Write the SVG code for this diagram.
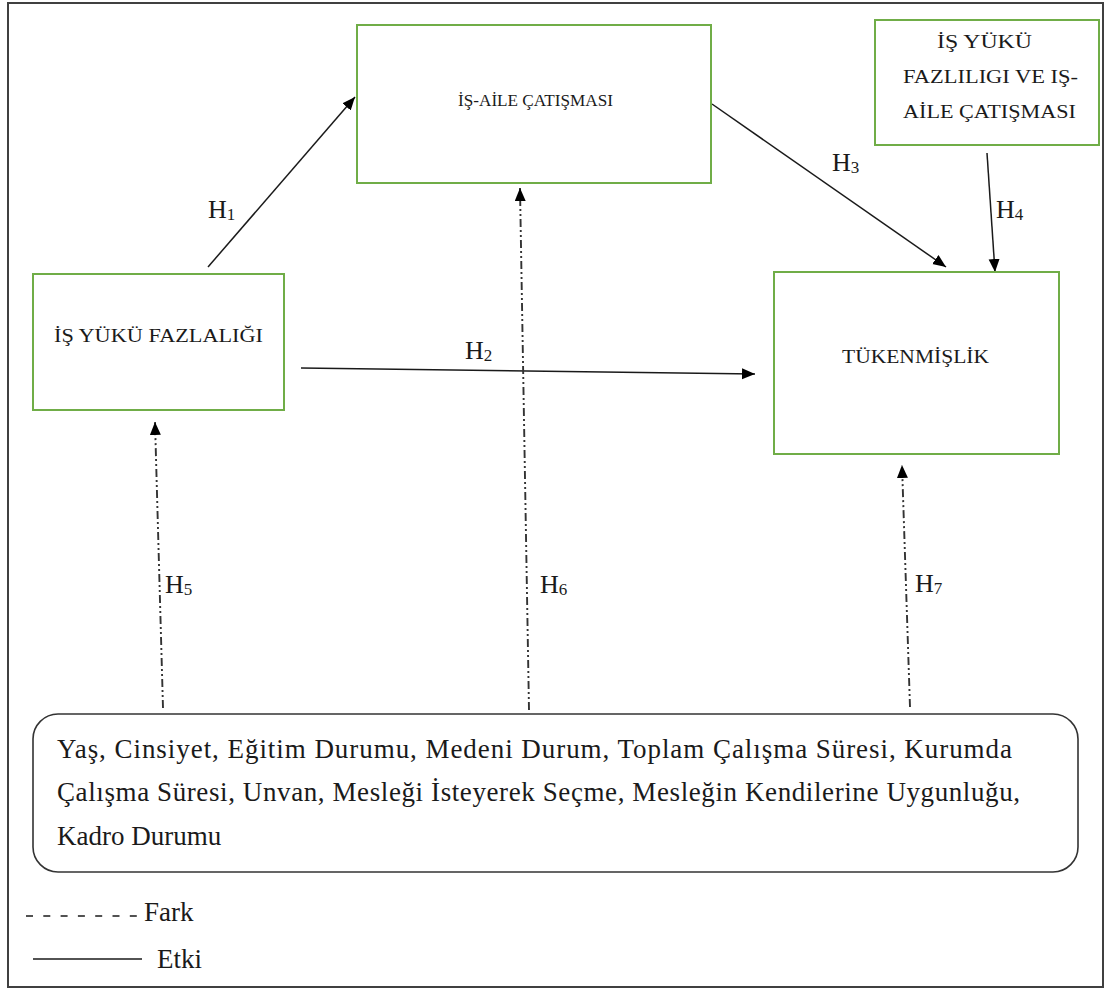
<svg xmlns="http://www.w3.org/2000/svg" width="1105" height="989" viewBox="0 0 1105 989">
<defs>
<marker id="ah" markerUnits="userSpaceOnUse" markerWidth="14" markerHeight="12" refX="13" refY="5.5" orient="auto">
<path d="M0,0 L13,5.5 L0,11 z" fill="#000"/>
</marker>
<style>
.frame{fill:none;stroke:#404040;stroke-width:2}
.box{fill:#fff;stroke:#70AD47;stroke-width:2}
.rbox{fill:#fff;stroke:#333;stroke-width:1.6}
.t{font-family:"Liberation Serif","Times New Roman",serif;fill:#1a1a1a}
.bt{font-size:19px}
.lt{font-size:27px}
.h{font-size:26px}
.sub{font-size:17px}
.solid{fill:none;stroke:#1a1a1a;stroke-width:1.5}
.dd{fill:none;stroke:#333;stroke-width:1.9;stroke-dasharray:8 3 2 3 2 3}
</style>
</defs>
<rect class="frame" x="8" y="3" width="1095" height="984"/>

<g id="connectors">
<line class="solid" x1="208" y1="267" x2="355" y2="97" marker-end="url(#ah)"/>
<line class="solid" x1="712" y1="104" x2="946" y2="267" marker-end="url(#ah)"/>
<line class="solid" x1="987" y1="153" x2="995" y2="272" marker-end="url(#ah)"/>
<line class="solid" x1="301" y1="368" x2="755" y2="374" marker-end="url(#ah)"/>
<line class="dd" x1="163" y1="708" x2="155" y2="422" marker-end="url(#ah)"/>
<line class="dd" x1="529" y1="710" x2="520" y2="188" marker-end="url(#ah)"/>
<line class="dd" x1="910" y1="707" x2="902" y2="465" marker-end="url(#ah)"/>
<text class="t h" x="208" y="218">H<tspan class="sub" dy="2">1</tspan></text>
<text class="t h" x="832" y="171">H<tspan class="sub" dy="2">3</tspan></text>
<text class="t h" x="996" y="218">H<tspan class="sub" dy="2">4</tspan></text>
<text class="t h" x="465" y="359">H<tspan class="sub" dy="2">2</tspan></text>
<text class="t h" x="165" y="593">H<tspan class="sub" dy="2">5</tspan></text>
<text class="t h" x="540" y="593">H<tspan class="sub" dy="2">6</tspan></text>
<text class="t h" x="915" y="592">H<tspan class="sub" dy="2">7</tspan></text>
</g>

<g id="is-aile">
<rect class="box" x="357" y="25" width="354" height="158"/>
<text class="t" font-size="17" x="458" y="106" textLength="155" lengthAdjust="spacingAndGlyphs">İŞ-AİLE ÇATIŞMASI</text>
</g>

<g id="moderator">
<rect class="box" x="875" y="20" width="224" height="125"/>
<text class="t bt" x="937" y="48" textLength="95" lengthAdjust="spacingAndGlyphs">İŞ YÜKÜ</text>
<text class="t bt" x="903" y="83" textLength="175" lengthAdjust="spacingAndGlyphs">FAZLILIGI VE IŞ-</text>
<text class="t bt" x="903" y="118" textLength="173" lengthAdjust="spacingAndGlyphs">AİLE ÇATIŞMASI</text>
</g>

<g id="is-yuku">
<rect class="box" x="33" y="274" width="251" height="136"/>
<text class="t bt" x="54" y="342" textLength="209" lengthAdjust="spacingAndGlyphs">İŞ YÜKÜ FAZLALIĞI</text>
</g>

<g id="tukenmislik">
<rect class="box" x="774" y="272" width="285" height="182"/>
<text class="t bt" x="842" y="363" textLength="147" lengthAdjust="spacingAndGlyphs">TÜKENMİŞLİK</text>
</g>

<g id="demografik">
<rect class="rbox" x="33" y="714" width="1045" height="158" rx="25" ry="25"/>
<text class="t lt" x="57" y="758" textLength="955" lengthAdjust="spacing">Yaş, Cinsiyet, Eğitim Durumu, Medeni Durum, Toplam Çalışma Süresi, Kurumda</text>
<text class="t lt" x="57" y="801" textLength="963" lengthAdjust="spacing">Çalışma Süresi, Unvan, Mesleği İsteyerek Seçme, Mesleğin Kendilerine Uygunluğu,</text>
<text class="t lt" x="57" y="845">Kadro Durumu</text>
</g>

<g id="legend">
<line x1="26" y1="916" x2="137" y2="916" stroke="#1a1a1a" stroke-width="1.5" stroke-dasharray="7 10.3"/>
<text class="t lt" x="144" y="921">Fark</text>
<line x1="33" y1="959" x2="142" y2="959" stroke="#1a1a1a" stroke-width="1.5"/>
<text class="t lt" x="157" y="968">Etki</text>
</g>
</svg>
